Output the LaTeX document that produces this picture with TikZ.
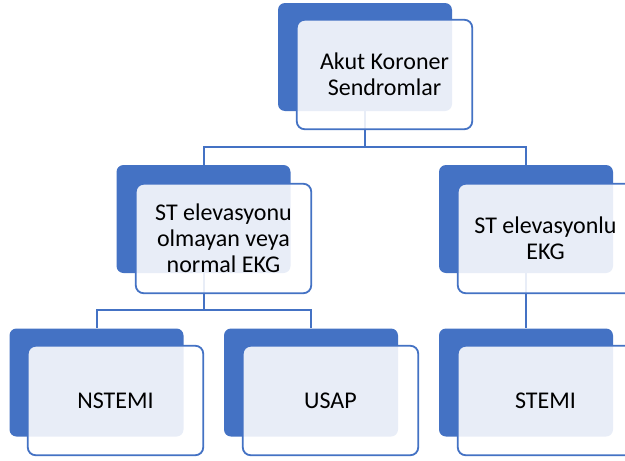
\documentclass[tikz,border=0pt]{standalone}
\usepackage{fontspec}
\setmainfont{Carlito}
\definecolor{acsblue}{HTML}{4472C4}
\begin{document}
\begin{tikzpicture}[x=1pt,y=-1pt,
  back/.style={draw=none, fill=acsblue, rounded corners=7pt, minimum width=174pt, minimum height=108pt, inner sep=0pt},
  front/.style={draw=acsblue, line width=1.8pt, fill=white, fill opacity=0.88, text opacity=1, rounded corners=8pt, minimum width=175.5pt, minimum height=109.5pt, inner sep=0pt, align=center, font=\fontsize{24}{26}\selectfont, text=black},
  conn/.style={draw=acsblue, line width=2pt}]
\useasboundingbox (0,0) rectangle (625,461);
\clip (0,0) rectangle (625,461);
\fill[white] (0,0) rectangle (625,461);
% back shapes
\node[back] (b0) at (365,57) {};
\node[back] (b1) at (203.5,219) {};
\node[back] (b2) at (526,219) {};
\node[back] (b3) at (96.5,382.5) {};
\node[back] (b4) at (311,382.5) {};
\node[back] (b5) at (526,382.5) {};
% connectors
\coordinate (j0) at (365,147);
\coordinate (j1) at (203.5,310);
\draw[conn] (b0.south) -- (j0) -| (b1.north);
\draw[conn] (j0) -| (b2.north);
\draw[conn] (b1.south) -- (j1) -| (b3.north);
\draw[conn] (j1) -| (b4.north);
\draw[conn] (b2.south) -- (b5.north);
% front shapes
\node[front] (f0) at (384.5,74.5) {Akut Koroner\\Sendromlar};
\node[front] (f1) at (223.5,238.5) {ST elevasyonu\\olmayan veya\\normal EKG};
\node[front] (f2) at (545.5,238.5) {ST elevasyonlu\\EKG};
\node[front] (f3) at (115.5,400.5) {NSTEMI};
\node[front] (f4) at (330.5,400.5) {USAP};
\node[front] (f5) at (545.5,400.5) {STEMI};
\end{tikzpicture}
\end{document}
